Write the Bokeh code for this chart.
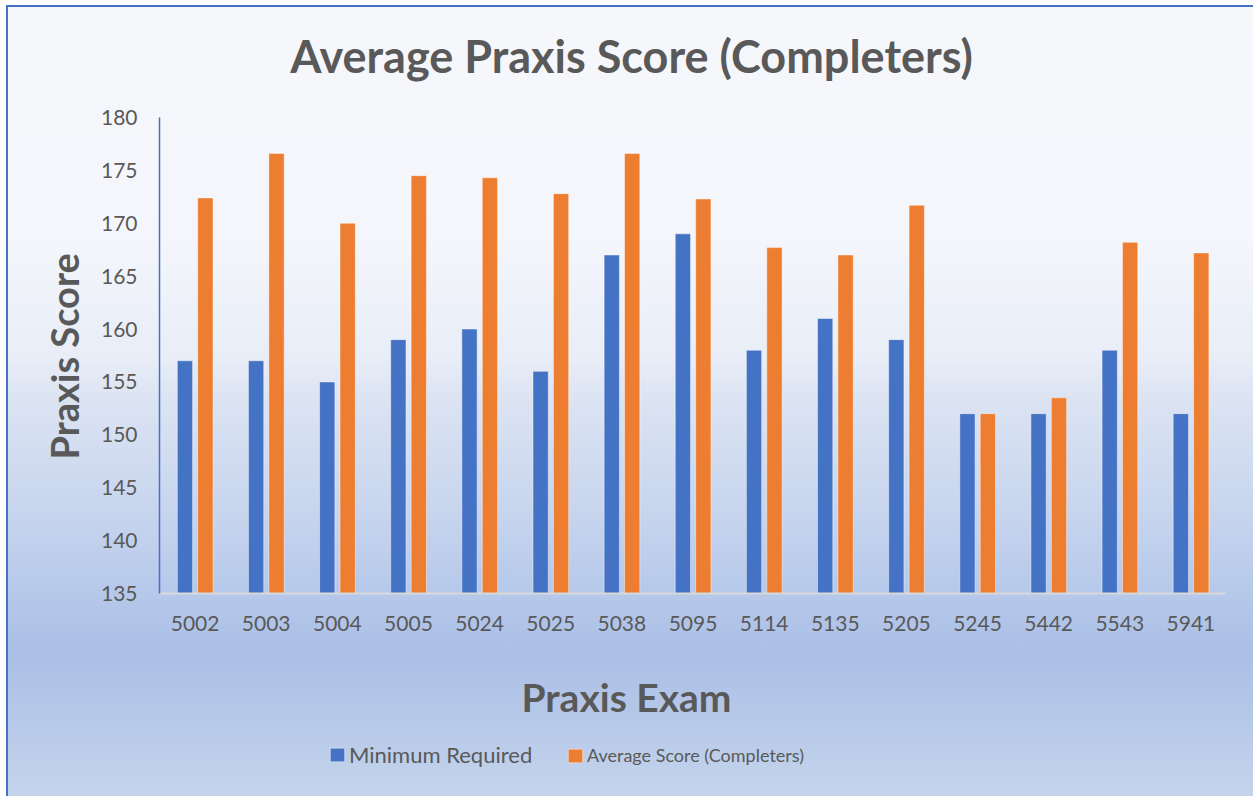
from bokeh.plotting import figure
from bokeh.models import (Legend, LegendItem, Label, Title, FixedTicker, CategoricalAxis,
                          Range1d)
from bokeh.transform import dodge
from bokeh.embed import file_html
from bokeh.resources import INLINE

exams = ["5002", "5003", "5004", "5005", "5024", "5025", "5038", "5095",
         "5114", "5135", "5205", "5245", "5442", "5543", "5941"]
minimum_required = [157, 157, 155, 159, 160, 156, 167, 169, 158, 161, 159, 152, 152, 158, 152]
average_score = [172.4, 176.6, 170.0, 174.5, 174.3, 172.8, 176.6, 172.3,
                 167.7, 167.0, 171.7, 152.0, 153.5, 168.2, 167.2]
y_ticks = [135, 140, 145, 150, 155, 160, 165, 170, 175, 180]
Y_MIN, Y_MAX = 135, 180

TEXT = "#595959"
BLUE = "#4472C4"
ORANGE = "#ED7D31"
FONT = "Lato"

# layout (pixels)
W, H = 1253, 796
AXIS_TOP_PX, AXIS_BOTTOM_PX = 117, 593
LEFT_PX, RIGHT_PX = 159, 1226
ppu = (AXIS_BOTTOM_PX - AXIS_TOP_PX) / (Y_MAX - Y_MIN)
y_start = Y_MIN - (H - AXIS_BOTTOM_PX) / ppu
y_end = Y_MAX + AXIS_TOP_PX / ppu

src = dict(exam=exams, minimum=minimum_required, average=average_score)

p = figure(x_range=exams, y_range=Range1d(y_start, y_end), width=W, height=H,
           output_backend="svg", toolbar_location=None, x_axis_location=None,
           min_border_left=LEFT_PX, min_border_right=W - RIGHT_PX,
           min_border_top=0, min_border_bottom=0)

p.styles = {
    "background": "linear-gradient(to bottom, #F6F7FB 0%, #F4F6FB 30%, #E8EDF7 45%, "
                  "#DCE4F3 50%, #C9D6EE 63%, #B5C8EA 75%, #ABBFE6 82%, #C4D4EC 100%)",
    "box-shadow": "inset 6px 5px 0 #FFFFFF, inset 8px 7px 0 #4472C4",
}
p.background_fill_color = None
p.border_fill_color = None
p.outline_line_color = None
p.xgrid.grid_line_color = None
p.ygrid.grid_line_color = None

r1 = p.vbar(x=dodge("exam", -0.142, range=p.x_range), top="minimum", bottom=Y_MIN,
            width=0.215, source=src, fill_color=BLUE, line_color="white",
            line_alpha=0.45, line_width=1)
r2 = p.vbar(x=dodge("exam", 0.145, range=p.x_range), top="average", bottom=Y_MIN,
            width=0.215, source=src, fill_color=ORANGE, line_color="white",
            line_alpha=0.45, line_width=1)

# y axis
p.yaxis.ticker = FixedTicker(ticks=y_ticks)
p.yaxis.bounds = (Y_MIN, Y_MAX)
p.yaxis.axis_line_color = BLUE
p.yaxis.axis_line_width = 1.5
p.yaxis.major_tick_line_color = None
p.yaxis.minor_tick_line_color = None
p.yaxis.major_tick_out = 0
p.yaxis.minor_tick_out = 0
p.yaxis.major_label_text_font = FONT
p.yaxis.major_label_text_font_size = "21px"
p.yaxis.major_label_text_color = TEXT
p.yaxis.major_label_standoff = 22

# y axis title, centred on the 135-180 span
ylabel = Title(text="Praxis Score", align="left", vertical_align="bottom",
               offset=H - 459, standoff=22, text_font=FONT, text_font_size="38px",
               text_font_style="bold", text_color=TEXT)
p.add_layout(ylabel, "left")

# x axis drawn at y = 135
xaxis = CategoricalAxis(fixed_location=Y_MIN)
xaxis.axis_line_color = "#D9D9D9"
xaxis.axis_line_width = 2
xaxis.major_tick_line_color = None
xaxis.minor_tick_line_color = None
xaxis.major_tick_out = 0
xaxis.minor_tick_out = 0
xaxis.major_label_text_font = FONT
xaxis.major_label_text_font_size = "21px"
xaxis.major_label_text_color = TEXT
xaxis.major_label_standoff = 22
p.add_layout(xaxis, "below")

title = Label(x=631 - LEFT_PX, y=H - 55, x_units="screen", y_units="screen",
              text="Average Praxis Score (Completers)", text_align="center",
              text_baseline="middle", text_font=FONT, text_font_size="45px",
              text_font_style="bold", text_color=TEXT)
xlabel = Label(x=626 - LEFT_PX, y=H - 696, x_units="screen", y_units="screen",
               text="Praxis Exam", text_align="center", text_baseline="middle",
               text_font=FONT, text_font_size="39px", text_font_style="bold",
               text_color=TEXT)
p.add_layout(title)
p.add_layout(xlabel)

leg1 = Legend(items=[LegendItem(label="Minimum Required", renderers=[r1])],
              location=(328 - LEFT_PX, 28), orientation="horizontal",
              background_fill_alpha=0, border_line_color=None,
              padding=0, margin=0, glyph_width=18, glyph_height=17,
              label_standoff=3, label_text_font=FONT,
              label_text_font_size="22px", label_text_color=TEXT)
leg2 = Legend(items=[LegendItem(label="Average Score (Completers)", renderers=[r2])],
              location=(566 - LEFT_PX, 30), orientation="horizontal",
              background_fill_alpha=0, border_line_color=None,
              padding=0, margin=0, glyph_width=18, glyph_height=17,
              label_standoff=3, label_text_font=FONT,
              label_text_font_size="18px", label_text_color=TEXT)
p.add_layout(leg1)
p.add_layout(leg2)

open("out.html", "w").write(file_html(p, INLINE))
